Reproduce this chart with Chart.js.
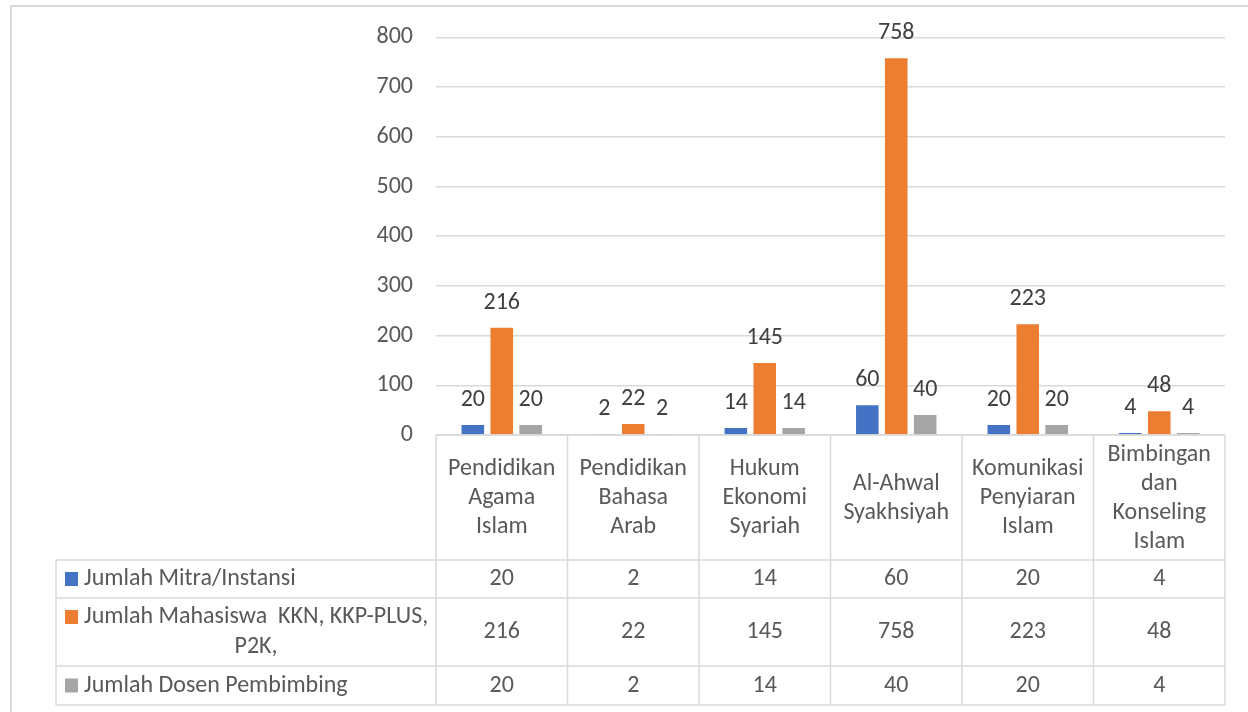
<!DOCTYPE html>
<html>
<head>
<meta charset="utf-8">
<script src="https://cdn.jsdelivr.net/npm/chart.js@4.4.1/dist/chart.umd.min.js"></script>
<style>
    body { margin: 0; background: #fff; }
    #wrap { width: 1248px; height: 712px; position: relative; }
</style>
</head>
<body>
<div id="wrap"><canvas id="chart"></canvas></div>
<script>
const categories = [
    ['Pendidikan', 'Agama', 'Islam'],
    ['Pendidikan', 'Bahasa', 'Arab'],
    ['Hukum', 'Ekonomi', 'Syariah'],
    ['Al-Ahwal', 'Syakhsiyah'],
    ['Komunikasi', 'Penyiaran', 'Islam'],
    ['Bimbingan', 'dan', 'Konseling', 'Islam']
];
const mitra = [20, 2, 14, 60, 20, 4];
const mahasiswa = [216, 22, 145, 758, 223, 48];
const dosen = [20, 2, 14, 40, 20, 4];
const seriesNames = [
    ['Jumlah Mitra/Instansi'],
    ['Jumlah Mahasiswa  KKN, KKP-PLUS,', 'P2K,'],
    ['Jumlah Dosen Pembimbing']
];
const yTicks = [0, 100, 200, 300, 400, 500, 600, 700, 800];

const FONT = 'Carlito, Calibri, Lato, sans-serif';
const FONT_SIZE = 24;
const colors = ['#4472C4', '#ED7D31', '#A5A5A5'];
const lineColor = '#D9D9D9';

// table rows under the plot (header row + one row per series)
const headerTop = 435, headerBottom = 560;
const rowEdges = [560, 598, 666, 705];
const tableLeft = 56;

const dataTablePlugin = {
    id: 'dataTable',
    beforeDraw(chart) {
        const ctx = chart.ctx;
        ctx.save();
        ctx.strokeStyle = lineColor;
        ctx.lineWidth = 2;
        ctx.beginPath();
        ctx.moveTo(11, 720);
        ctx.lineTo(11, 6);
        ctx.lineTo(1260, 6);
        ctx.stroke();
        ctx.restore();
    },
    afterDatasetsDraw(chart) {
        const ctx = chart.ctx;
        const x = chart.scales.x;
        const area = chart.chartArea;
        const colW = (area.right - area.left) / categories.length;

        ctx.save();
        // value labels above the bars
        ctx.font = FONT_SIZE + 'px ' + FONT;
        ctx.fillStyle = '#404040';
        ctx.textAlign = 'center';
        ctx.textBaseline = 'alphabetic';
        chart.data.datasets.forEach((ds, di) => {
            chart.getDatasetMeta(di).data.forEach((bar, i) => {
                ctx.fillText(String(ds.data[i]), bar.x, bar.y - 19);
            });
        });

        // grid of the table
        ctx.strokeStyle = lineColor;
        ctx.lineWidth = 1.5;
        ctx.beginPath();
        ctx.moveTo(area.left, headerTop);
        ctx.lineTo(area.right, headerTop);
        rowEdges.forEach(y => {
            ctx.moveTo(tableLeft, y);
            ctx.lineTo(area.right, y);
        });
        ctx.moveTo(tableLeft, rowEdges[0]);
        ctx.lineTo(tableLeft, rowEdges[rowEdges.length - 1]);
        for (let i = 0; i <= categories.length; i++) {
            const cx = area.left + i * colW;
            ctx.moveTo(cx, headerTop);
            ctx.lineTo(cx, rowEdges[rowEdges.length - 1]);
        }
        ctx.stroke();

        // header: category names
        ctx.fillStyle = '#595959';
        ctx.textBaseline = 'middle';
        const midHeader = (headerTop + headerBottom) / 2 + 0.5;
        chart.data.labels.forEach((lines, i) => {
            const cx = x.getPixelForValue(i);
            lines.forEach((t, k) => {
                ctx.fillText(t, cx, midHeader + (k - (lines.length - 1) / 2) * 29);
            });
        });

        // series rows
        chart.data.datasets.forEach((ds, di) => {
            const top = rowEdges[di], bottom = rowEdges[di + 1];
            const mid = (top + bottom) / 2;
            ctx.textAlign = 'center';
            ds.data.forEach((v, i) => {
                ctx.fillText(String(v), x.getPixelForValue(i), mid);
            });
            const names = seriesNames[di];
            const firstY = mid - (names.length - 1) / 2 * 30;
            ctx.fillStyle = colors[di];
            ctx.fillRect(65, firstY - 7, 13, 14);
            ctx.fillStyle = '#595959';
            names.forEach((t, k) => {
                if (k === 0) {
                    ctx.textAlign = 'left';
                    ctx.fillText(t, 84, firstY);
                } else {
                    ctx.textAlign = 'center';
                    ctx.fillText(t, 256, firstY + k * 30);
                }
            });
        });
        ctx.restore();
    }
};

const seriesData = [mitra, mahasiswa, dosen];

new Chart(document.getElementById('chart'), {
    type: 'bar',
    data: {
        labels: categories,
        datasets: seriesData.map((d, i) => ({
            label: seriesNames[i].join(' '),
            data: d,
            backgroundColor: colors[i],
            categoryPercentage: 0.66,
            barPercentage: 0.78
        }))
    },
    options: {
        responsive: true,
        maintainAspectRatio: false,
        animation: false,
        layout: { padding: { top: 35, right: 23, bottom: 277, left: 0 } },
        plugins: {
            legend: { display: false },
            tooltip: { enabled: false }
        },
        scales: {
            x: { display: false },
            y: {
                min: 0,
                max: 800,
                afterFit(scale) { scale.width = 436; },
                afterBuildTicks(scale) { scale.ticks = yTicks.map(v => ({ value: v })); },
                grid: { color: lineColor, lineWidth: 1.5, drawTicks: false },
                border: { display: false },
                ticks: {
                    padding: 23,
                    color: '#595959',
                    font: { family: FONT, size: FONT_SIZE }
                }
            }
        }
    },
    plugins: [dataTablePlugin]
});
</script>
</body>
</html>
